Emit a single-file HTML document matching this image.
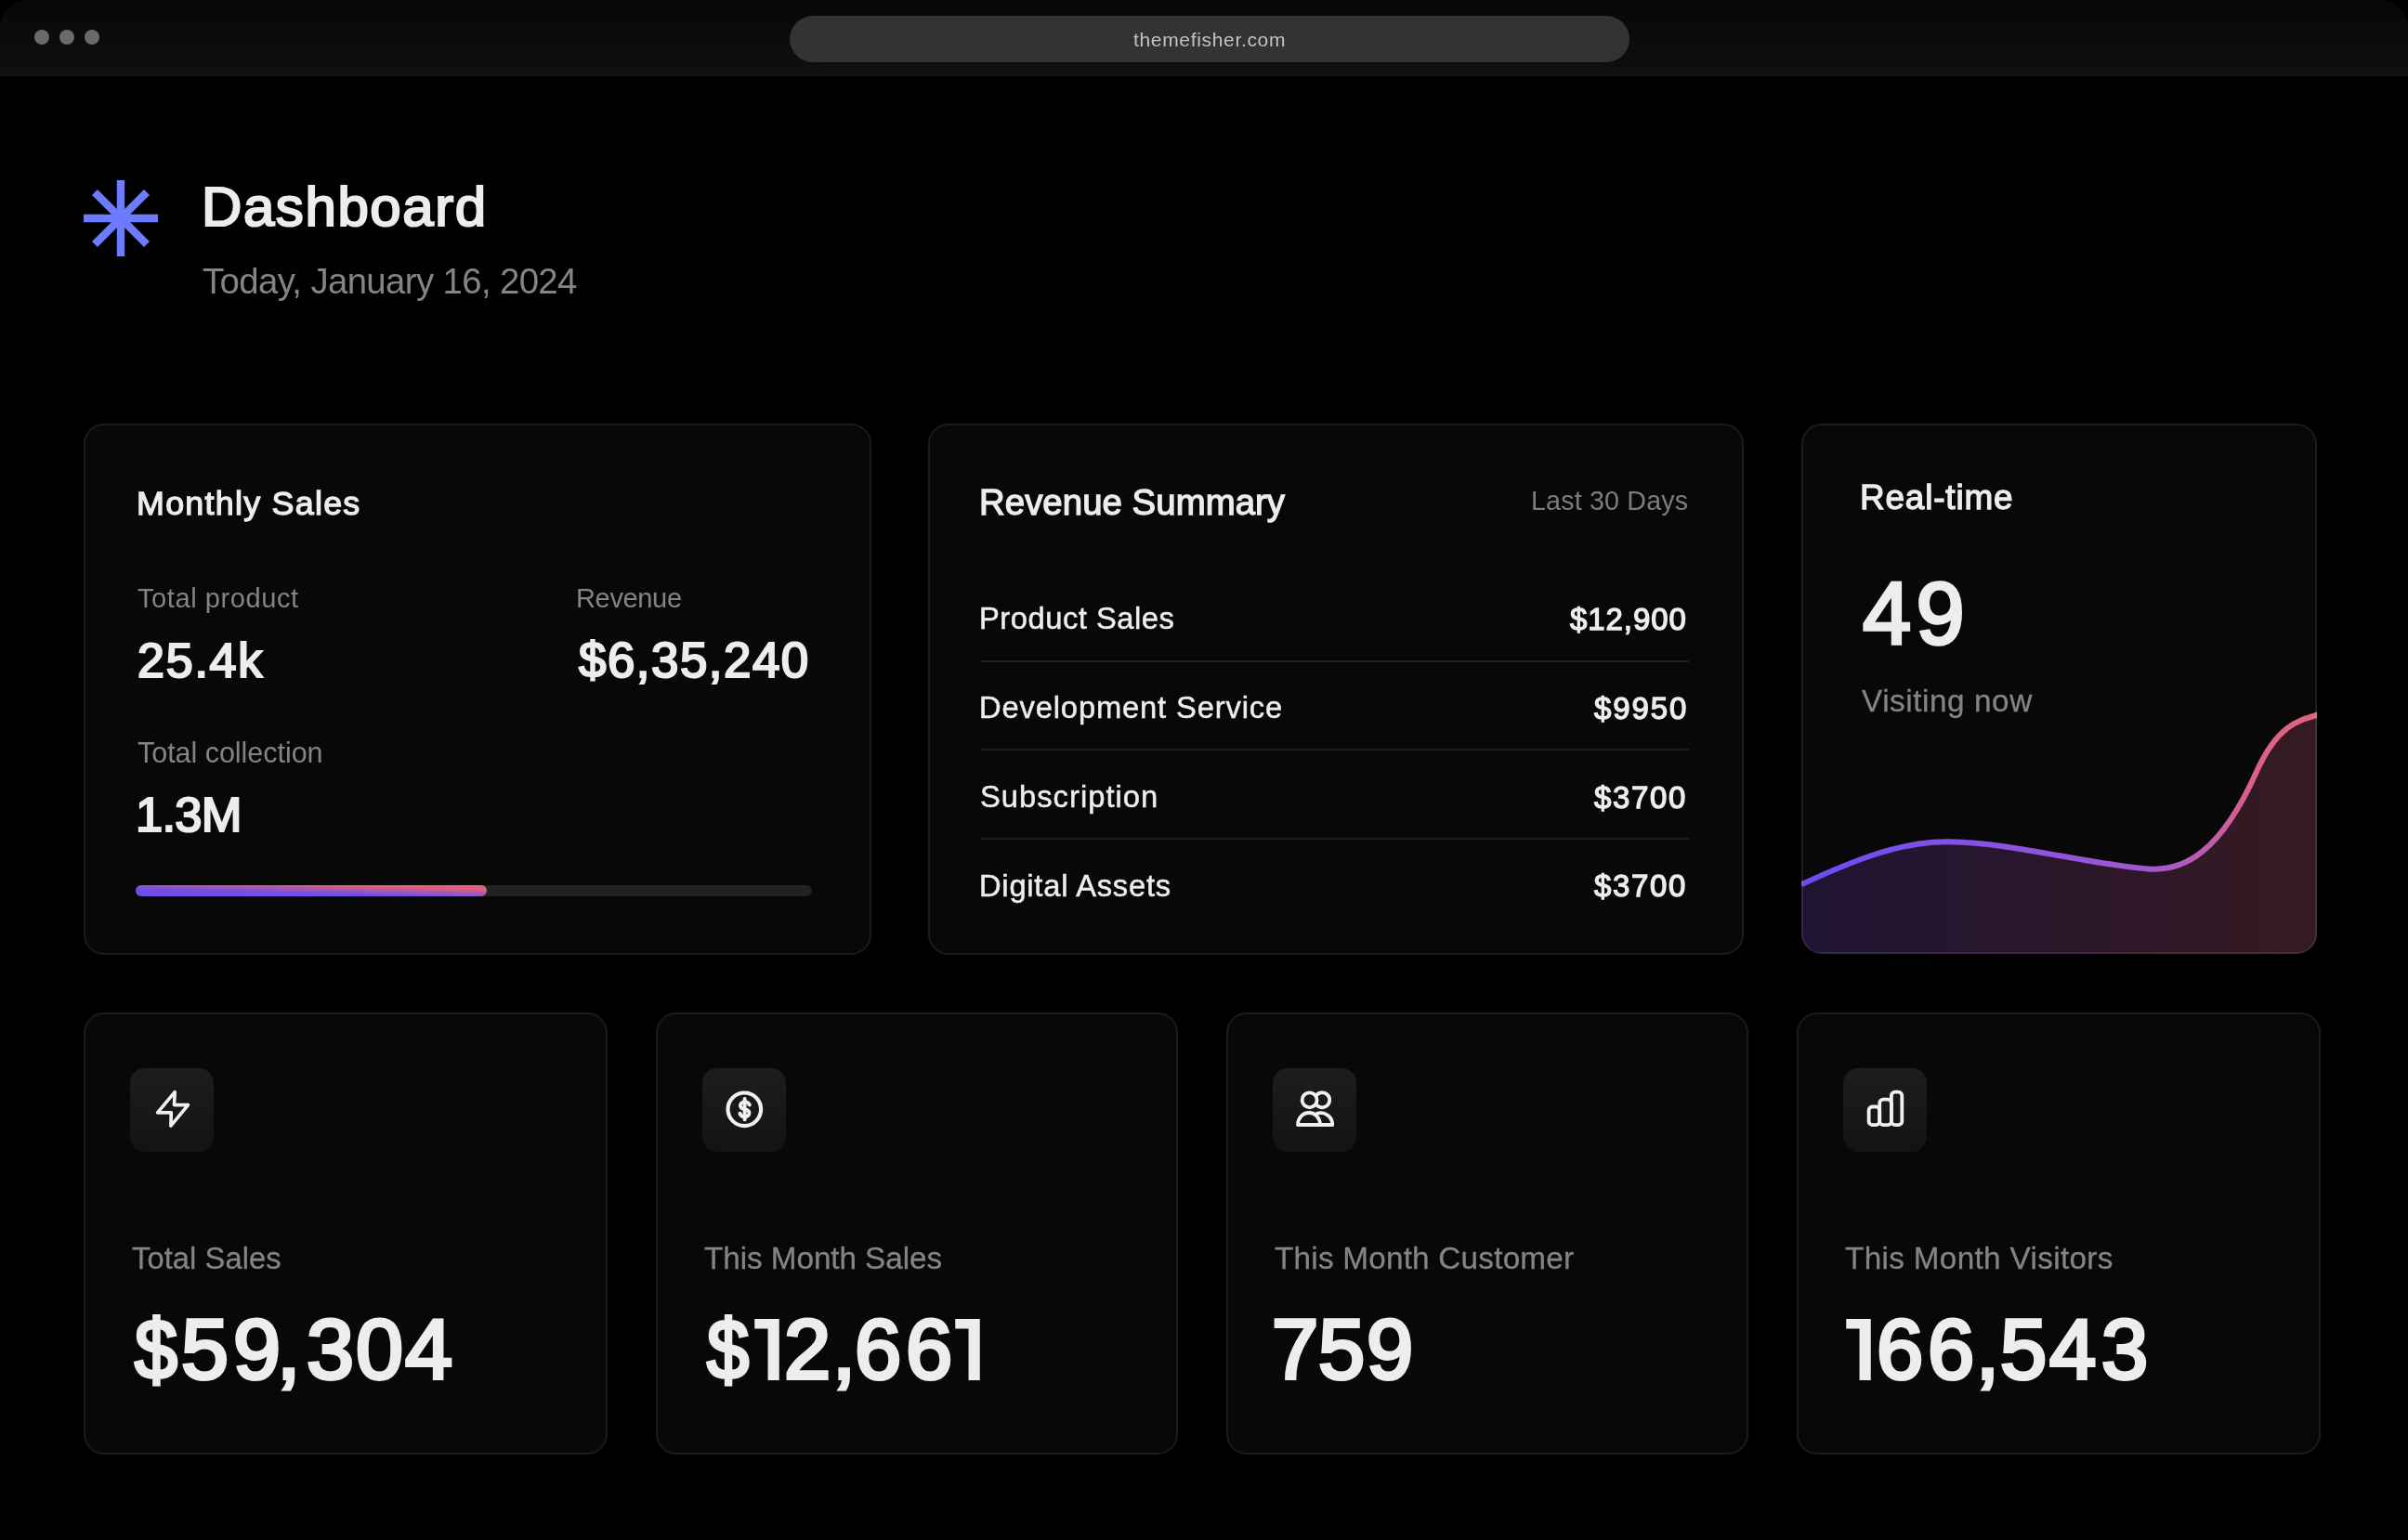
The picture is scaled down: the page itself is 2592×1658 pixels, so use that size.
<!DOCTYPE html>
<html><head><meta charset="utf-8">
<style>
html,body{margin:0;padding:0;background:#000;width:2592px;height:1658px;overflow:hidden;}
body{position:relative;font-family:"Liberation Sans",sans-serif;}
.t{position:absolute;white-space:nowrap;line-height:1;will-change:transform;}
.hdr{position:absolute;left:0;top:0;width:2592px;height:82px;border-radius:30px 30px 0 0;background:linear-gradient(#070707,#0f0f0f 92%,#131313);}
.dot{position:absolute;width:16px;height:16px;border-radius:50%;background:#6a6a6a;top:32px;}
.url{position:absolute;left:850px;top:17px;width:904px;height:50px;border-radius:25px;background:#333;}
.card{position:absolute;box-sizing:border-box;border:2px solid #1b1b1b;border-radius:22px;background:#080808;}
.ib{position:absolute;width:90px;height:90px;top:1150px;border-radius:16px;background:linear-gradient(#1d1d1d,#131313);}
.ib svg{position:absolute;left:0;top:0;}
</style></head><body>
<div class="hdr"></div>
<div class="dot" style="left:36.5px"></div>
<div class="dot" style="left:64px"></div>
<div class="dot" style="left:91.1px"></div>
<div class="url"></div>

<svg style="position:absolute;left:86px;top:190px" width="90" height="90" viewBox="0 0 90 90">
 <g stroke="#6c7bff" stroke-width="8.4" stroke-linecap="butt">
  <line x1="44" y1="4" x2="44" y2="86"/>
  <line x1="4" y1="45" x2="84" y2="45"/>
  <line x1="16" y1="17" x2="72" y2="73"/>
  <line x1="72" y1="17" x2="16" y2="73"/>
 </g>
</svg>

<div class="card" style="left:90px;top:456px;width:848px;height:572px"></div>
<div class="card" style="left:999px;top:456px;width:878px;height:572px"></div>
<div class="card" style="left:1939px;top:456px;width:555px;height:571px;overflow:hidden;border:none;">
 <svg width="555" height="571" viewBox="0 0 555 571" style="position:absolute;left:0;top:0">
  <defs>
   <linearGradient id="fillg" x1="0" y1="0" x2="1" y2="0">
    <stop offset="0" stop-color="#1f1433"/>
    <stop offset="1" stop-color="#361a22"/>
   </linearGradient>
   <linearGradient id="strokeg" gradientUnits="userSpaceOnUse" x1="0" y1="0" x2="555" y2="0">
    <stop offset="0" stop-color="#6a4cf2"/>
    <stop offset="0.5" stop-color="#9254dc"/>
    <stop offset="0.68" stop-color="#a158d0"/>
    <stop offset="0.79" stop-color="#c05bac"/>
    <stop offset="0.87" stop-color="#da5f8a"/>
    <stop offset="1" stop-color="#e2637c"/>
   </linearGradient>
  </defs>
  <rect x="0" y="0" width="555" height="571" fill="#080808"/>
  <path d="M0.0 496.2 C53.0 471.8 106.0 449.4 159.0 450.3 C230.3 451.4 301.7 473.6 373.0 479.4 C412.0 482.6 451.0 461.9 490.0 374.8 C512.0 325.6 534.0 319.8 556.0 313.5 L556 580 L0 580 Z" fill="url(#fillg)"/>
  <path d="M0.0 496.2 C53.0 471.8 106.0 449.4 159.0 450.3 C230.3 451.4 301.7 473.6 373.0 479.4 C412.0 482.6 451.0 461.9 490.0 374.8 C512.0 325.6 534.0 319.8 556.0 313.5" fill="none" stroke="url(#strokeg)" stroke-width="6"/>
 </svg>
 <div style="position:absolute;left:0;top:0;right:0;bottom:0;box-sizing:border-box;border:2px solid rgba(255,255,255,0.085);border-radius:22px;"></div>
</div>

<div class="card" style="left:90px;top:1090px;width:564px;height:476px"></div>
<div class="card" style="left:706px;top:1090px;width:562px;height:476px"></div>
<div class="card" style="left:1320px;top:1090px;width:562px;height:476px"></div>
<div class="card" style="left:1934px;top:1090px;width:564px;height:476px"></div>

<!-- progress -->
<div style="position:absolute;left:146px;top:953px;width:728px;height:12px;border-radius:6px;background:#222;"></div>
<div style="position:absolute;left:146px;top:953px;width:378px;height:12px;border-radius:6px;background:linear-gradient(1.5deg,#6e4de8 0%,#7250e6 38%,#e2607c 80%,#e8627a 100%);"></div>

<!-- dividers -->
<div style="position:absolute;left:1056px;top:711px;width:762px;height:2px;background:#1f1f1f"></div>
<div style="position:absolute;left:1056px;top:806px;width:762px;height:2px;background:#1f1f1f"></div>
<div style="position:absolute;left:1056px;top:902px;width:762px;height:2px;background:#1f1f1f"></div>

<!-- icon boxes -->
<div class="ib" style="left:140px">
 <svg width="90" height="90" viewBox="0 0 90 90"><path d="M48.2 25.7 L47.5 39.6 L62.5 39.6 L43.9 62.1 L44.3 47.9 L29.6 47.9 Z" fill="none" stroke="#f0f0f0" stroke-width="3.6" stroke-linejoin="round"/></svg>
</div>
<div class="ib" style="left:756px">
 <svg width="90" height="90" viewBox="0 0 90 90"><circle cx="45.3" cy="44.3" r="17.8" fill="none" stroke="#f0f0f0" stroke-width="4.2"/><g fill="none" stroke="#f0f0f0" stroke-width="3.9" stroke-linecap="round"><path d="M50.8 39.6 C50 37.2 48 36.4 45.6 36.4 C42.8 36.4 40.9 38 40.9 40.3 C40.9 42.8 43 43.6 45.6 44.2 C48.4 44.8 50.5 45.8 50.5 48.3 C50.5 50.7 48.4 52.3 45.6 52.3 C43 52.3 41 51.1 40.4 48.8"/><path d="M45.6 33 V55.4"/></g></svg>
</div>
<div class="ib" style="left:1370px">
 <svg width="90" height="90" viewBox="0 0 90 90"><g fill="none" stroke="#f0f0f0" stroke-width="3.8" stroke-linejoin="round">
  <circle cx="39.6" cy="34.3" r="8"/>
  <path d="M46.4 30.1 A8 8 0 1 1 46.4 38.5"/>
  <path d="M27 61 A12 13 0 0 1 51 61 Z"/>
  <path d="M45.3 50.1 A12.5 13 0 0 1 64.3 61 L51 61"/>
 </g></svg>
</div>
<div class="ib" style="left:1984px">
 <svg width="90" height="90" viewBox="0 0 90 90"><g fill="none" stroke="#f0f0f0" stroke-width="3.8" stroke-linejoin="round">
  <rect x="27.6" y="41.5" width="11.6" height="19.7" rx="4"/>
  <rect x="39.2" y="33.7" width="12.7" height="27.5" rx="4"/>
  <rect x="51.9" y="25.7" width="11.4" height="35.5" rx="4"/>
 </g></svg>
</div>

<div class="t" style="left:1220.0px;top:32.0px;font-size:21px;font-weight:normal;color:#c2c2c2;letter-spacing:0.67px">themefisher.com</div>
<div class="t" style="left:217.1px;top:192.6px;font-size:60.03px;font-weight:normal;color:#ededed;letter-spacing:1.57px;-webkit-text-stroke:2.2px #ededed">Dashboard</div>
<div class="t" style="left:218.0px;top:284.1px;font-size:38.37px;font-weight:normal;color:#848484;letter-spacing:-0.63px">Today, January 16, 2024</div>
<div class="t" style="left:146.7px;top:524.5px;font-size:35.9px;font-weight:normal;color:#ededed;letter-spacing:1.24px;-webkit-text-stroke:1.3px #ededed">Monthly Sales</div>
<div class="t" style="left:148.0px;top:629.7px;font-size:29.07px;font-weight:normal;color:#848484;letter-spacing:0.56px">Total product</div>
<div class="t" style="left:619.8px;top:629.9px;font-size:29.07px;font-weight:normal;color:#848484;letter-spacing:-0.38px">Revenue</div>
<div class="t" style="left:148.1px;top:685.4px;font-size:52.03px;font-weight:normal;color:#ededed;letter-spacing:1.77px;-webkit-text-stroke:2.2px #ededed">25.4k</div>
<div class="t" style="left:623.1px;top:684.8px;font-size:52.91px;font-weight:normal;color:#ededed;letter-spacing:1.48px;-webkit-text-stroke:2.2px #ededed">$6,35,240</div>
<div class="t" style="left:148.0px;top:794.8px;font-size:30.52px;font-weight:normal;color:#848484;letter-spacing:-0.04px">Total collection</div>
<div class="t" style="left:146.1px;top:851.3px;font-size:52.47px;font-weight:normal;color:#ededed;letter-spacing:-0.71px;-webkit-text-stroke:2.2px #ededed">1.3M</div>
<div class="t" style="left:1054.2px;top:521.7px;font-size:38.37px;font-weight:normal;color:#ededed;letter-spacing:0.05px;-webkit-text-stroke:1.3px #ededed">Revenue Summary</div>
<div class="t" style="left:1647.7px;top:524.7px;font-size:28.63px;font-weight:normal;color:#7c7c7c;letter-spacing:0.18px">Last 30 Days</div>
<div class="t" style="left:1054.2px;top:650.1px;font-size:32.7px;font-weight:normal;color:#ededed;letter-spacing:0.53px;-webkit-text-stroke:0.5px #ededed">Product Sales</div>
<div class="t" style="left:1690.0px;top:649.9px;font-size:32.99px;font-weight:normal;color:#ededed;letter-spacing:0.92px;-webkit-text-stroke:1.3px #ededed">$12,900</div>
<div class="t" style="left:1053.8px;top:746.3px;font-size:32.7px;font-weight:normal;color:#ededed;letter-spacing:0.86px;-webkit-text-stroke:0.5px #ededed">Development Service</div>
<div class="t" style="left:1716.2px;top:745.6px;font-size:32.99px;font-weight:normal;color:#ededed;letter-spacing:1.91px;-webkit-text-stroke:1.3px #ededed">$9950</div>
<div class="t" style="left:1055.2px;top:842.2px;font-size:32.7px;font-weight:normal;color:#ededed;letter-spacing:1.03px;-webkit-text-stroke:0.5px #ededed">Subscription</div>
<div class="t" style="left:1716.2px;top:841.5px;font-size:32.99px;font-weight:normal;color:#ededed;letter-spacing:1.66px;-webkit-text-stroke:1.3px #ededed">$3700</div>
<div class="t" style="left:1054.2px;top:938.0px;font-size:32.7px;font-weight:normal;color:#ededed;letter-spacing:0.76px;-webkit-text-stroke:0.5px #ededed">Digital Assets</div>
<div class="t" style="left:1716.2px;top:937.3px;font-size:32.99px;font-weight:normal;color:#ededed;letter-spacing:1.66px;-webkit-text-stroke:1.3px #ededed">$3700</div>
<div class="t" style="left:2002.4px;top:518.2px;font-size:36.92px;font-weight:normal;color:#ededed;letter-spacing:0.83px;-webkit-text-stroke:1.3px #ededed">Real-time</div>
<div class="t" style="left:2004.5px;top:613.7px;font-size:93.75px;font-weight:normal;color:#ededed;letter-spacing:5.26px;-webkit-text-stroke:3.5px #ededed">49</div>
<div class="t" style="left:2004.2px;top:738.1px;font-size:33.28px;font-weight:normal;color:#848484;letter-spacing:0.57px;-webkit-text-stroke:0.3px #848484">Visiting now</div>
<div class="t" style="left:141.6px;top:1338.5px;font-size:32.7px;font-weight:normal;color:#848484;letter-spacing:0.08px;-webkit-text-stroke:0.3px #848484">Total Sales</div>
<div class="t" style="left:144.8px;top:1407.1px;font-size:91.72px;color:#ededed;-webkit-text-stroke:3.9px #ededed;transform:scaleX(0.9);transform-origin:0 0">$</div>
<div class="t" style="left:194.6px;top:1407.1px;font-size:91.72px;color:#ededed;-webkit-text-stroke:3.9px #ededed">5</div>
<div class="t" style="left:250.8px;top:1407.1px;font-size:91.72px;color:#ededed;-webkit-text-stroke:3.9px #ededed">9</div>
<div class="t" style="left:298.2px;top:1407.1px;font-size:91.72px;color:#ededed;-webkit-text-stroke:3.9px #ededed">,</div>
<div class="t" style="left:330.3px;top:1407.1px;font-size:91.72px;color:#ededed;-webkit-text-stroke:3.9px #ededed">3</div>
<div class="t" style="left:383.2px;top:1407.1px;font-size:91.72px;color:#ededed;-webkit-text-stroke:3.9px #ededed">0</div>
<div class="t" style="left:435.6px;top:1407.1px;font-size:91.72px;color:#ededed;-webkit-text-stroke:3.9px #ededed">4</div>
<div class="t" style="left:758.0px;top:1338.3px;font-size:33.28px;font-weight:normal;color:#848484;letter-spacing:-0.06px;-webkit-text-stroke:0.3px #848484">This Month Sales</div>
<div class="t" style="left:760.7px;top:1408.3px;font-size:90.26px;color:#ededed;-webkit-text-stroke:3.9px #ededed;transform:scaleX(0.9);transform-origin:0 0">$</div>
<svg style="position:absolute;left:811.8px;top:1420.3px" width="27" height="66.0" viewBox="0 0 26.5 66.0"><path d="M0 0 H26.5 V66.0 H14.3 V10.5 H0 Z" fill="#ededed"/></svg>
<div class="t" style="left:844.4px;top:1408.3px;font-size:90.26px;color:#ededed;-webkit-text-stroke:3.9px #ededed">2</div>
<div class="t" style="left:896.2px;top:1408.3px;font-size:90.26px;color:#ededed;-webkit-text-stroke:3.9px #ededed">,</div>
<div class="t" style="left:919.6px;top:1408.3px;font-size:90.26px;color:#ededed;-webkit-text-stroke:3.9px #ededed">6</div>
<div class="t" style="left:975.0px;top:1408.3px;font-size:90.26px;color:#ededed;-webkit-text-stroke:3.9px #ededed">6</div>
<svg style="position:absolute;left:1027.8px;top:1420.3px" width="27" height="66.0" viewBox="0 0 26.5 66.0"><path d="M0 0 H26.5 V66.0 H14.3 V10.5 H0 Z" fill="#ededed"/></svg>
<div class="t" style="left:1371.9px;top:1338.3px;font-size:33.28px;font-weight:normal;color:#848484;letter-spacing:0.23px;-webkit-text-stroke:0.3px #848484">This Month Customer</div>
<div class="t" style="left:1368.5px;top:1408.3px;font-size:90.26px;color:#ededed;-webkit-text-stroke:3.9px #ededed">7</div>
<div class="t" style="left:1418.8px;top:1408.3px;font-size:90.26px;color:#ededed;-webkit-text-stroke:3.9px #ededed">5</div>
<div class="t" style="left:1470.9px;top:1408.3px;font-size:90.26px;color:#ededed;-webkit-text-stroke:3.9px #ededed">9</div>
<div class="t" style="left:1985.9px;top:1338.3px;font-size:33.28px;font-weight:normal;color:#848484;letter-spacing:0.34px;-webkit-text-stroke:0.3px #848484">This Month Visitors</div>
<svg style="position:absolute;left:1987.2px;top:1420.3px" width="27" height="66.0" viewBox="0 0 26.5 66.0"><path d="M0 0 H26.5 V66.0 H14.3 V10.5 H0 Z" fill="#ededed"/></svg>
<div class="t" style="left:2019.8px;top:1408.3px;font-size:90.26px;color:#ededed;-webkit-text-stroke:3.9px #ededed">6</div>
<div class="t" style="left:2075.1px;top:1408.3px;font-size:90.26px;color:#ededed;-webkit-text-stroke:3.9px #ededed">6</div>
<div class="t" style="left:2127.1px;top:1408.3px;font-size:90.26px;color:#ededed;-webkit-text-stroke:3.9px #ededed">,</div>
<div class="t" style="left:2153.0px;top:1408.3px;font-size:90.26px;color:#ededed;-webkit-text-stroke:3.9px #ededed">5</div>
<div class="t" style="left:2206.4px;top:1408.3px;font-size:90.26px;color:#ededed;-webkit-text-stroke:3.9px #ededed">4</div>
<div class="t" style="left:2262.2px;top:1408.3px;font-size:90.26px;color:#ededed;-webkit-text-stroke:3.9px #ededed">3</div>
</body></html>
